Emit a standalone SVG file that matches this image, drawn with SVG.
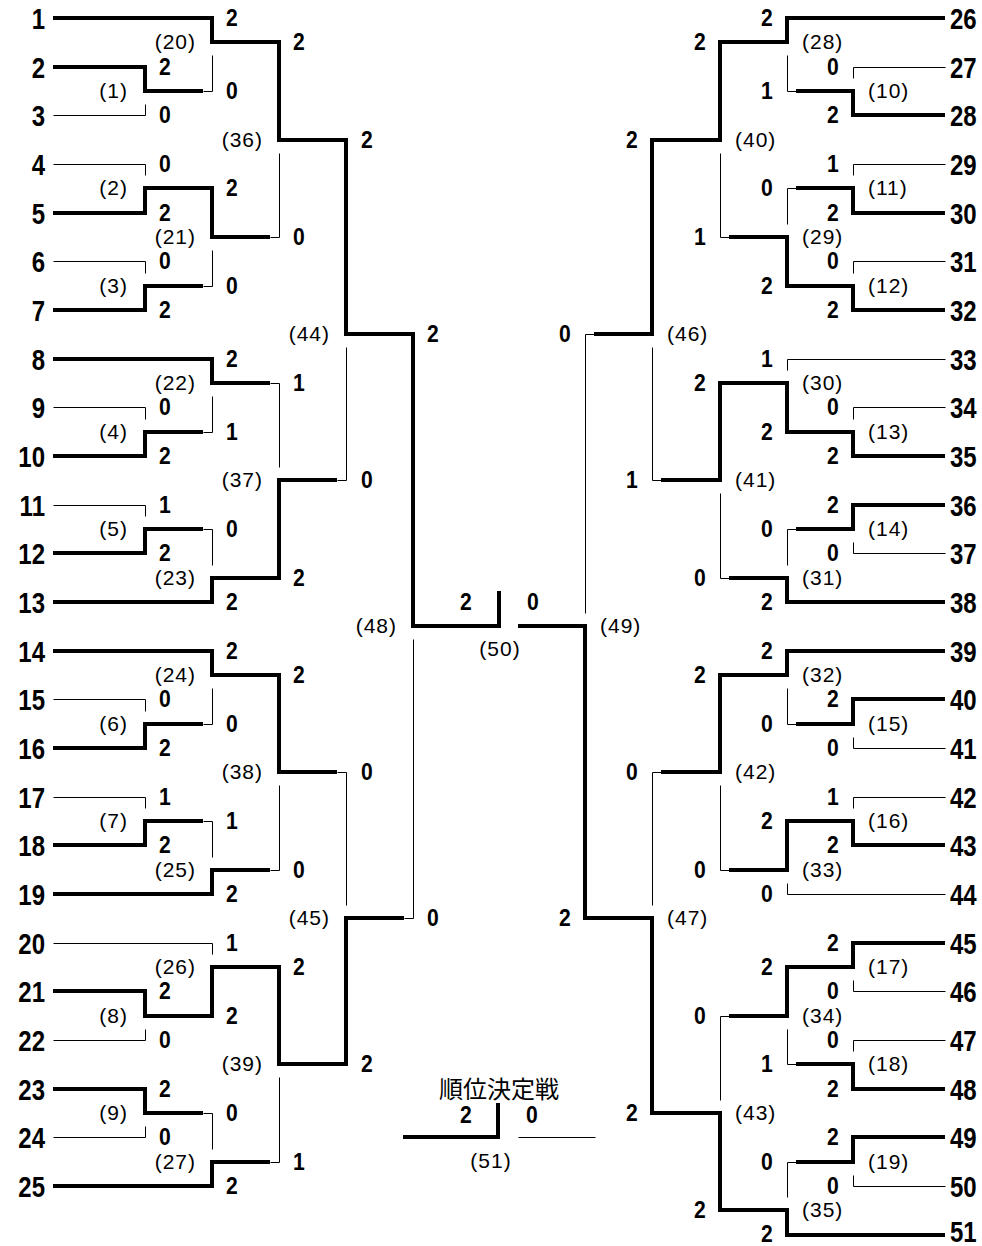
<svg xmlns="http://www.w3.org/2000/svg" width="982" height="1246" viewBox="0 0 982 1246">
<style>
.k{fill:none;stroke:#000;stroke-width:4;stroke-linejoin:miter}
.t{fill:none;stroke:#000;stroke-width:1}
.tn{font-family:'Liberation Sans',Arial,sans-serif;font-weight:bold;font-size:30px;fill:#000;transform-box:fill-box;transform:scaleX(0.8)}
.tl{text-anchor:end;transform-origin:100% 50%}
.tr{transform-origin:0 50%}
.sc{font-family:'Liberation Sans',Arial,sans-serif;font-weight:bold;font-size:24px;fill:#000;text-anchor:middle;transform-box:fill-box;transform-origin:50% 50%;transform:scaleX(0.88)}
.ml{font-family:'Liberation Sans',Arial,sans-serif;font-size:21px;letter-spacing:1px;fill:#000}
.mr{text-anchor:end}
.mc{text-anchor:middle}
.jp{font-family:'Liberation Sans','Noto Sans CJK JP',sans-serif;font-size:24px;fill:#000;text-anchor:middle}
</style>
<rect width="982" height="1246" fill="#fff"/>
<g id="connectors">
<g id="thick-lines">
<path class="k" d="M53 18H212V42H279V140H346V334H413V626H499V591"/>
<path class="k" d="M53 67H145V91H203"/>
<path class="k" d="M53 213H145V188H212V237H270"/>
<path class="k" d="M53 310H145V286H203"/>
<path class="k" d="M53 359H212V383H270"/>
<path class="k" d="M53 456H145V432H203"/>
<path class="k" d="M53 553H145V529H203"/>
<path class="k" d="M53 602H212V578H279V480H337"/>
<path class="k" d="M53 651H212V675H279V772H337"/>
<path class="k" d="M53 748H145V724H203"/>
<path class="k" d="M53 845H145V821H203"/>
<path class="k" d="M53 894H212V870H270"/>
<path class="k" d="M53 991H145V1016H212V967H279V1064H346V918H404"/>
<path class="k" d="M53 1089H145V1113H203"/>
<path class="k" d="M53 1186H212V1162H270"/>
<path class="k" d="M945 18H787V42H720V140H652V334H594"/>
<path class="k" d="M945 115H853V91H796"/>
<path class="k" d="M945 213H853V188H796"/>
<path class="k" d="M945 310H853V286H787V237H729"/>
<path class="k" d="M945 456H853V432H787V383H720V480H661"/>
<path class="k" d="M945 505H853V529H796"/>
<path class="k" d="M945 602H787V578H729"/>
<path class="k" d="M945 651H787V675H720V772H661"/>
<path class="k" d="M945 699H853V724H796"/>
<path class="k" d="M945 845H853V821H787V870H729"/>
<path class="k" d="M945 943H853V967H787V1016H729"/>
<path class="k" d="M945 1089H853V1064H796"/>
<path class="k" d="M945 1137H853V1162H796"/>
<path class="k" d="M945 1235H787V1210H720V1113H652V918H585V626H518"/>
<path class="k" d="M403 1137H498V1103"/>
</g>
<g id="thin-lines" transform="translate(0.5,0.5)">
<path class="t" d="M53 115H145V104M53 164H145V175M53 261H145V273M53 407H145V419M53 505H145V516M53 699H145V711M53 797H145V808M53 943H212V954M53 1040H145V1029M53 1137H145V1126"/>
<path class="t" d="M203 91H212V55M203 286H212V250M203 432H212V396M203 529H212V565M203 724H212V688M203 821H212V857M203 1113H212V1149"/>
<path class="t" d="M270 237H279V153M270 383H279V467M270 870H279V785M270 1162H279V1077M337 480H346V347M337 772H346V905M404 918H413V639"/>
<path class="t" d="M945 67H853V78M945 164H853V175M945 261H853V273M945 359H787V370M945 407H853V419M945 553H853V542M945 748H853V737M945 797H853V808M945 894H787V883M945 991H853V980M945 1040H853V1051M945 1186H853V1175"/>
<path class="t" d="M796 91H787V55M796 188H787V224M796 529H787V565M796 724H787V688M796 1064H787V1029M796 1162H787V1197"/>
<path class="t" d="M729 237H720V153M729 578H720V493M729 870H720V785M729 1016H720V1100M661 480H652V347M661 772H652V905M594 334H585V613"/>
<path class="t" d="M518 1137H595"/>
</g>
</g>
<g id="teams-left">
<text id="team-1" class="tn tl" x="45" y="29">1</text>
<text id="team-2" class="tn tl" x="45" y="78">2</text>
<text id="team-3" class="tn tl" x="45" y="126">3</text>
<text id="team-4" class="tn tl" x="45" y="175">4</text>
<text id="team-5" class="tn tl" x="45" y="224">5</text>
<text id="team-6" class="tn tl" x="45" y="272">6</text>
<text id="team-7" class="tn tl" x="45" y="321">7</text>
<text id="team-8" class="tn tl" x="45" y="370">8</text>
<text id="team-9" class="tn tl" x="45" y="418">9</text>
<text id="team-10" class="tn tl" x="45" y="467">10</text>
<text id="team-11" class="tn tl" x="45" y="516">11</text>
<text id="team-12" class="tn tl" x="45" y="564">12</text>
<text id="team-13" class="tn tl" x="45" y="613">13</text>
<text id="team-14" class="tn tl" x="45" y="662">14</text>
<text id="team-15" class="tn tl" x="45" y="710">15</text>
<text id="team-16" class="tn tl" x="45" y="759">16</text>
<text id="team-17" class="tn tl" x="45" y="808">17</text>
<text id="team-18" class="tn tl" x="45" y="856">18</text>
<text id="team-19" class="tn tl" x="45" y="905">19</text>
<text id="team-20" class="tn tl" x="45" y="954">20</text>
<text id="team-21" class="tn tl" x="45" y="1002">21</text>
<text id="team-22" class="tn tl" x="45" y="1051">22</text>
<text id="team-23" class="tn tl" x="45" y="1100">23</text>
<text id="team-24" class="tn tl" x="45" y="1148">24</text>
<text id="team-25" class="tn tl" x="45" y="1197">25</text>
</g>
<g id="teams-right">
<text id="team-26" class="tn tr" x="950" y="29">26</text>
<text id="team-27" class="tn tr" x="950" y="78">27</text>
<text id="team-28" class="tn tr" x="950" y="126">28</text>
<text id="team-29" class="tn tr" x="950" y="175">29</text>
<text id="team-30" class="tn tr" x="950" y="224">30</text>
<text id="team-31" class="tn tr" x="950" y="272">31</text>
<text id="team-32" class="tn tr" x="950" y="321">32</text>
<text id="team-33" class="tn tr" x="950" y="370">33</text>
<text id="team-34" class="tn tr" x="950" y="418">34</text>
<text id="team-35" class="tn tr" x="950" y="467">35</text>
<text id="team-36" class="tn tr" x="950" y="516">36</text>
<text id="team-37" class="tn tr" x="950" y="564">37</text>
<text id="team-38" class="tn tr" x="950" y="613">38</text>
<text id="team-39" class="tn tr" x="950" y="662">39</text>
<text id="team-40" class="tn tr" x="950" y="710">40</text>
<text id="team-41" class="tn tr" x="950" y="759">41</text>
<text id="team-42" class="tn tr" x="950" y="808">42</text>
<text id="team-43" class="tn tr" x="950" y="856">43</text>
<text id="team-44" class="tn tr" x="950" y="905">44</text>
<text id="team-45" class="tn tr" x="950" y="954">45</text>
<text id="team-46" class="tn tr" x="950" y="1002">46</text>
<text id="team-47" class="tn tr" x="950" y="1051">47</text>
<text id="team-48" class="tn tr" x="950" y="1100">48</text>
<text id="team-49" class="tn tr" x="950" y="1148">49</text>
<text id="team-50" class="tn tr" x="950" y="1197">50</text>
<text id="team-51" class="tn tr" x="950" y="1242">51</text>
</g>
<g id="m1"><text class="ml mr" x="128" y="98">(1)</text><text class="sc" x="165" y="75">2</text><text class="sc" x="165" y="123">0</text></g>
<g id="m2"><text class="ml mr" x="128" y="195">(2)</text><text class="sc" x="165" y="172">0</text><text class="sc" x="165" y="221">2</text></g>
<g id="m3"><text class="ml mr" x="128" y="293">(3)</text><text class="sc" x="165" y="269">0</text><text class="sc" x="165" y="318">2</text></g>
<g id="m4"><text class="ml mr" x="128" y="439">(4)</text><text class="sc" x="165" y="415">0</text><text class="sc" x="165" y="464">2</text></g>
<g id="m5"><text class="ml mr" x="128" y="536">(5)</text><text class="sc" x="165" y="513">1</text><text class="sc" x="165" y="561">2</text></g>
<g id="m6"><text class="ml mr" x="128" y="731">(6)</text><text class="sc" x="165" y="707">0</text><text class="sc" x="165" y="756">2</text></g>
<g id="m7"><text class="ml mr" x="128" y="828">(7)</text><text class="sc" x="165" y="805">1</text><text class="sc" x="165" y="853">2</text></g>
<g id="m8"><text class="ml mr" x="128" y="1023">(8)</text><text class="sc" x="165" y="999">2</text><text class="sc" x="165" y="1048">0</text></g>
<g id="m9"><text class="ml mr" x="128" y="1120">(9)</text><text class="sc" x="165" y="1097">2</text><text class="sc" x="165" y="1145">0</text></g>
<g id="m20"><text class="ml mr" x="196" y="49">(20)</text><text class="sc" x="232" y="26">2</text><text class="sc" x="232" y="99">0</text></g>
<g id="m21"><text class="ml mr" x="196" y="244">(21)</text><text class="sc" x="232" y="196">2</text><text class="sc" x="232" y="294">0</text></g>
<g id="m22"><text class="ml mr" x="196" y="390">(22)</text><text class="sc" x="232" y="367">2</text><text class="sc" x="232" y="440">1</text></g>
<g id="m23"><text class="ml mr" x="196" y="585">(23)</text><text class="sc" x="232" y="537">0</text><text class="sc" x="232" y="610">2</text></g>
<g id="m24"><text class="ml mr" x="196" y="682">(24)</text><text class="sc" x="232" y="659">2</text><text class="sc" x="232" y="732">0</text></g>
<g id="m25"><text class="ml mr" x="196" y="877">(25)</text><text class="sc" x="232" y="829">1</text><text class="sc" x="232" y="902">2</text></g>
<g id="m26"><text class="ml mr" x="196" y="974">(26)</text><text class="sc" x="232" y="951">1</text><text class="sc" x="232" y="1024">2</text></g>
<g id="m27"><text class="ml mr" x="196" y="1169">(27)</text><text class="sc" x="232" y="1121">0</text><text class="sc" x="232" y="1194">2</text></g>
<g id="m36"><text class="ml mr" x="263" y="147">(36)</text><text class="sc" x="299" y="50">2</text><text class="sc" x="299" y="245">0</text></g>
<g id="m37"><text class="ml mr" x="263" y="487">(37)</text><text class="sc" x="299" y="391">1</text><text class="sc" x="299" y="586">2</text></g>
<g id="m38"><text class="ml mr" x="263" y="779">(38)</text><text class="sc" x="299" y="683">2</text><text class="sc" x="299" y="878">0</text></g>
<g id="m39"><text class="ml mr" x="263" y="1071">(39)</text><text class="sc" x="299" y="975">2</text><text class="sc" x="299" y="1170">1</text></g>
<g id="m44"><text class="ml mr" x="330" y="341">(44)</text><text class="sc" x="367" y="148">2</text><text class="sc" x="367" y="488">0</text></g>
<g id="m45"><text class="ml mr" x="330" y="925">(45)</text><text class="sc" x="367" y="780">0</text><text class="sc" x="367" y="1072">2</text></g>
<g id="m48"><text class="ml mr" x="397" y="633">(48)</text><text class="sc" x="433" y="342">2</text><text class="sc" x="433" y="926">0</text></g>
<g id="m10"><text class="ml" x="868" y="98">(10)</text><text class="sc" x="833" y="75">0</text><text class="sc" x="833" y="123">2</text></g>
<g id="m11"><text class="ml" x="868" y="195">(11)</text><text class="sc" x="833" y="172">1</text><text class="sc" x="833" y="221">2</text></g>
<g id="m12"><text class="ml" x="868" y="293">(12)</text><text class="sc" x="833" y="269">0</text><text class="sc" x="833" y="318">2</text></g>
<g id="m13"><text class="ml" x="868" y="439">(13)</text><text class="sc" x="833" y="415">0</text><text class="sc" x="833" y="464">2</text></g>
<g id="m14"><text class="ml" x="868" y="536">(14)</text><text class="sc" x="833" y="513">2</text><text class="sc" x="833" y="561">0</text></g>
<g id="m15"><text class="ml" x="868" y="731">(15)</text><text class="sc" x="833" y="707">2</text><text class="sc" x="833" y="756">0</text></g>
<g id="m16"><text class="ml" x="868" y="828">(16)</text><text class="sc" x="833" y="805">1</text><text class="sc" x="833" y="853">2</text></g>
<g id="m17"><text class="ml" x="868" y="974">(17)</text><text class="sc" x="833" y="951">2</text><text class="sc" x="833" y="999">0</text></g>
<g id="m18"><text class="ml" x="868" y="1071">(18)</text><text class="sc" x="833" y="1048">0</text><text class="sc" x="833" y="1097">2</text></g>
<g id="m19"><text class="ml" x="868" y="1169">(19)</text><text class="sc" x="833" y="1145">2</text><text class="sc" x="833" y="1194">0</text></g>
<g id="m28"><text class="ml" x="802" y="49">(28)</text><text class="sc" x="767" y="26">2</text><text class="sc" x="767" y="99">1</text></g>
<g id="m29"><text class="ml" x="802" y="244">(29)</text><text class="sc" x="767" y="196">0</text><text class="sc" x="767" y="294">2</text></g>
<g id="m30"><text class="ml" x="802" y="390">(30)</text><text class="sc" x="767" y="367">1</text><text class="sc" x="767" y="440">2</text></g>
<g id="m31"><text class="ml" x="802" y="585">(31)</text><text class="sc" x="767" y="537">0</text><text class="sc" x="767" y="610">2</text></g>
<g id="m32"><text class="ml" x="802" y="682">(32)</text><text class="sc" x="767" y="659">2</text><text class="sc" x="767" y="732">0</text></g>
<g id="m33"><text class="ml" x="802" y="877">(33)</text><text class="sc" x="767" y="829">2</text><text class="sc" x="767" y="902">0</text></g>
<g id="m34"><text class="ml" x="802" y="1023">(34)</text><text class="sc" x="767" y="975">2</text><text class="sc" x="767" y="1072">1</text></g>
<g id="m35"><text class="ml" x="802" y="1217">(35)</text><text class="sc" x="767" y="1170">0</text><text class="sc" x="767" y="1242">2</text></g>
<g id="m40"><text class="ml" x="735" y="147">(40)</text><text class="sc" x="700" y="50">2</text><text class="sc" x="700" y="245">1</text></g>
<g id="m41"><text class="ml" x="735" y="487">(41)</text><text class="sc" x="700" y="391">2</text><text class="sc" x="700" y="586">0</text></g>
<g id="m42"><text class="ml" x="735" y="779">(42)</text><text class="sc" x="700" y="683">2</text><text class="sc" x="700" y="878">0</text></g>
<g id="m43"><text class="ml" x="735" y="1120">(43)</text><text class="sc" x="700" y="1024">0</text><text class="sc" x="700" y="1218">2</text></g>
<g id="m46"><text class="ml" x="667" y="341">(46)</text><text class="sc" x="632" y="148">2</text><text class="sc" x="632" y="488">1</text></g>
<g id="m47"><text class="ml" x="667" y="925">(47)</text><text class="sc" x="632" y="780">0</text><text class="sc" x="632" y="1121">2</text></g>
<g id="m49"><text class="ml" x="600" y="633">(49)</text><text class="sc" x="565" y="342">0</text><text class="sc" x="565" y="926">2</text></g>
<g id="m50"><text class="ml mc" x="500" y="656">(50)</text><text class="sc" x="466" y="610">2</text><text class="sc" x="533" y="610">0</text></g>
<g id="m51"><text class="jp" x="499" y="1098">順位決定戦</text><text class="sc" x="466" y="1123">2</text><text class="sc" x="532" y="1123">0</text><text class="ml mc" x="491" y="1168">(51)</text></g>
</svg>
